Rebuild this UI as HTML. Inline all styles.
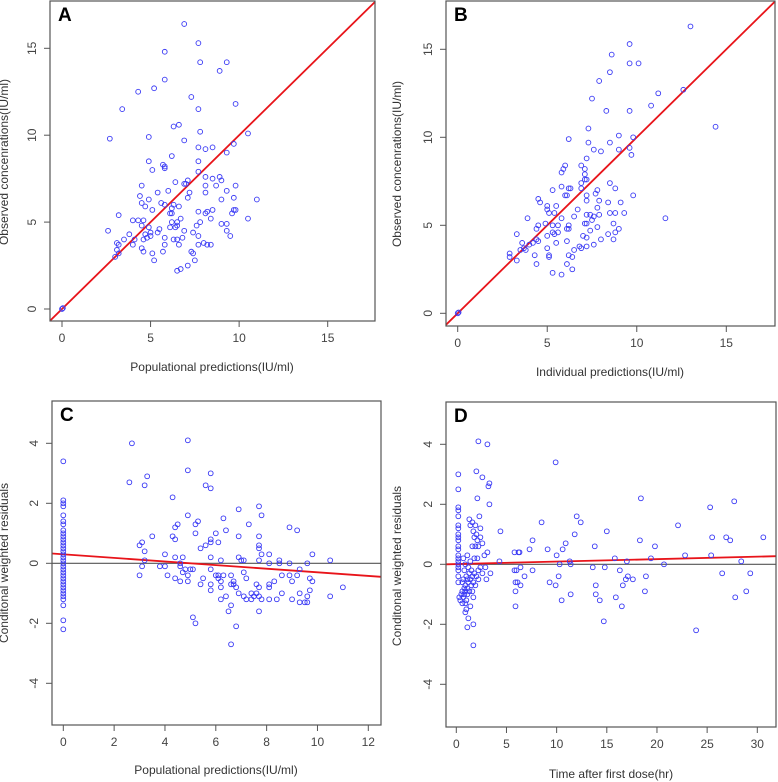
<!DOCTYPE html>
<html><head><meta charset="utf-8"><style>
html,body{margin:0;padding:0;background:#fff;}
svg{display:block;font-family:"Liberation Sans",Arial,sans-serif;}
</style></head><body>
<svg id="fig" width="778" height="782" viewBox="0 0 778 782"></svg>
<script>
// Panel A data: populational predictions vs observed
const aX=[6.9,7.7,5.8,7.8,9.3,8.9,5.8,4.3,5.2,7.3,3.4,7.7,9.8,6.3,6.6,2.7,4.9,6.9,7.8,10.5,7.7,8.1,8.5,9.7,9.3,6.2,4.9,5.7,5.8,5.8,5.1,7.7,7.7,8.1,8.9,8.5,9.0,6.4,6.9,7.0,7.1,8.1,8.7,9.8,4.5,5.4,6.0,7.2,8.1,9.3,4.4,4.9,7.1,9.0,9.7,11.0,4.5,5.6,5.8,4.7,6.3,6.6,5.1,6.2,7.7,8.2,8.5,9.7,9.8,3.2,6.1,6.2,8.1,9.6,4.0,4.3,4.6,6.2,6.5,6.7,7.8,8.4,10.5,9.3,9.0,4.5,6.1,6.5,7.6,4.9,5.5,6.4,9.3,2.6,3.8,5.4,6.9,7.4,4.7,5.0,4.8,5.0,3.5,4.1,4.6,5.8,6.3,6.5,6.8,7.7,9.5,3.1,3.2,4.0,5.8,6.6,7.7,8.0,8.2,8.4,3.1,4.5,4.6,5.7,7.3,7.4,3.0,3.2,5.1,5.2,7.5,7.1,6.5,6.7,0,0.05];
const aY=[16.4,15.3,14.8,14.2,14.2,13.7,13.2,12.5,12.7,12.2,11.5,11.5,11.8,10.5,10.6,9.8,9.9,9.7,10.2,10.1,9.3,9.2,9.3,9.5,9.0,8.8,8.5,8.3,8.2,8.1,8.0,8.5,7.9,7.6,7.6,7.5,7.4,7.3,7.2,7.2,7.4,7.1,7.1,7.1,7.1,6.7,6.8,6.7,6.7,6.8,6.5,6.3,6.4,6.3,6.4,6.3,6.1,6.1,6.0,5.9,6.0,5.9,5.7,5.8,5.6,5.6,5.7,5.7,5.7,5.4,5.5,5.5,5.5,5.5,5.1,5.1,5.1,5.0,5.0,5.2,5.0,5.2,5.2,4.9,4.9,4.8,4.7,4.8,4.8,4.7,4.6,4.7,4.5,4.5,4.3,4.4,4.5,4.4,4.3,4.4,4.1,4.2,4.0,4.0,4.0,4.1,4.0,4.0,4.1,4.2,4.2,3.8,3.7,3.7,3.7,3.7,3.7,3.8,3.7,3.7,3.4,3.5,3.3,3.3,3.3,3.2,3.0,3.2,3.2,2.8,2.8,2.5,2.2,2.3,0,0.05];
// Panel B data: individual predictions vs observed
const bX=[13.0,9.6,8.6,9.6,10.1,8.5,7.9,11.2,12.6,7.5,10.8,8.3,9.6,14.4,7.3,6.2,9.0,9.8,8.5,7.3,9.0,7.6,8.0,9.6,9.7,7.2,6.9,6.0,5.9,5.8,7.1,7.1,7.1,7.2,6.9,8.5,8.8,5.8,6.2,6.3,6.9,5.3,7.8,6.0,6.1,7.2,7.7,9.8,4.5,4.6,7.2,7.9,8.4,9.1,5.0,5.5,5.0,5.1,5.4,6.7,7.8,7.2,7.4,7.6,7.9,8.5,8.8,9.3,11.6,3.9,5.8,6.5,7.5,4.5,4.9,5.3,5.6,6.2,7.1,7.2,8.7,6.1,6.2,7.4,7.8,9.0,4.4,5.3,5.6,8.8,3.3,5.0,5.4,7.0,7.2,8.4,4.4,4.5,4.2,3.6,4.0,5.5,6.1,7.6,8.0,8.7,3.7,3.8,3.5,5.0,6.5,6.8,6.9,7.2,2.9,2.9,4.3,5.1,5.1,6.2,6.4,3.3,4.4,6.1,6.4,5.3,5.8,0,0.05];
const bY=[16.3,15.3,14.7,14.2,14.2,13.7,13.2,12.5,12.7,12.2,11.8,11.5,11.5,10.6,10.5,9.9,10.1,10.0,9.7,9.7,9.3,9.3,9.2,9.4,9.0,8.8,8.4,8.4,8.2,8.0,8.2,7.9,7.6,7.6,7.4,7.4,7.1,7.2,7.1,7.1,7.1,7.0,7.0,6.7,6.7,6.7,6.8,6.7,6.5,6.3,6.4,6.4,6.3,6.3,6.1,6.1,5.9,5.7,5.7,5.9,6.0,5.6,5.6,5.5,5.6,5.7,5.7,5.7,5.4,5.4,5.4,5.5,5.3,5.0,5.1,5.0,5.0,5.0,5.1,5.1,5.1,4.8,4.8,4.7,4.9,4.8,4.8,4.6,4.6,4.6,4.5,4.4,4.5,4.4,4.3,4.5,4.2,4.1,4.0,4.0,3.9,4.0,4.1,3.9,4.2,4.2,3.7,3.6,3.6,3.7,3.6,3.8,3.7,3.8,3.4,3.2,3.3,3.3,3.2,3.3,3.2,3.0,2.8,2.8,2.5,2.3,2.2,0,0.05];
// Panel C data: populational predictions vs CWRES
const cX=[0,0,0,0,0,0,0,0,0,0,0,0,0,0,0,0,0,0,0,0,0,0,0,0,0,0,0,0,0,0,0,0,0,0,2.7,4.9,4.9,2.6,3.3,3.2,5.8,5.6,5.8,4.3,7.7,6.9,7.8,4.9,6.3,5.3,5.2,4.5,4.4,7.3,8.9,9.2,6.4,6.0,5.2,4.3,3.5,6.9,7.7,4.4,5.8,5.8,3.1,6.1,5.6,5.4,3.0,3.2,7.7,7.7,7.8,8.1,9.8,4.0,4.4,4.7,5.8,6.9,7.0,7.1,7.7,10.5,3.2,6.2,8.5,8.1,8.5,8.9,9.6,4.6,3.1,3.8,4.0,4.6,4.8,5.0,5.1,5.8,7.1,9.3,4.7,4.9,3.0,4.1,6.0,6.1,6.3,6.6,8.6,8.9,9.2,4.4,5.5,6.1,6.2,6.7,7.2,9.0,9.7,4.6,4.9,6.7,5.4,5.8,6.6,6.2,7.6,8.1,8.1,9.8,6.8,7.7,8.3,9.7,11.0,5.8,6.9,7.4,7.6,8.6,9.3,10.5,7.1,7.5,7.7,9.6,6.2,6.4,7.2,7.4,7.8,8.1,8.4,9.0,9.3,9.5,9.6,6.6,6.5,7.7,5.1,5.2,6.8,6.6];
const cY=[3.4,2.1,2.0,1.9,1.6,1.4,1.3,1.1,1.0,0.9,0.8,0.7,0.6,0.5,0.4,0.3,0.2,0.1,0.0,-0.1,-0.2,-0.3,-0.4,-0.5,-0.6,-0.7,-0.8,-0.9,-1.0,-1.1,-1.2,-1.4,-1.9,-2.2,4.0,4.1,3.1,2.7,2.9,2.6,3.0,2.6,2.5,2.2,1.9,1.8,1.6,1.6,1.5,1.4,1.3,1.3,1.2,1.3,1.2,1.1,1.1,1.0,1.0,0.9,0.9,0.9,0.9,0.8,0.8,0.7,0.7,0.7,0.6,0.5,0.6,0.4,0.6,0.5,0.3,0.3,0.3,0.3,0.2,0.2,0.2,0.2,0.1,0.1,0.1,0.1,0.1,0.1,0.1,0.0,0.0,0.0,0.0,0.0,-0.1,-0.1,-0.1,-0.1,-0.2,-0.2,-0.2,-0.2,-0.3,-0.2,-0.3,-0.4,-0.4,-0.4,-0.4,-0.4,-0.4,-0.4,-0.4,-0.4,-0.4,-0.5,-0.5,-0.5,-0.6,-0.6,-0.5,-0.6,-0.5,-0.6,-0.6,-0.7,-0.7,-0.7,-0.7,-0.8,-0.7,-0.7,-0.8,-0.6,-0.8,-0.8,-0.6,-0.9,-0.8,-0.9,-1.0,-1.0,-1.0,-1.0,-1.0,-1.1,-1.1,-1.1,-1.1,-1.1,-1.2,-1.1,-1.2,-1.2,-1.2,-1.2,-1.2,-1.2,-1.3,-1.3,-1.3,-1.4,-1.6,-1.6,-1.8,-2.0,-2.1,-2.7];
const cLineX=[-0.5,12.5];
const cLineY=[0.33,-0.45];
// Panel D data: time after first dose vs CWRES
const dX=[0.2,0.2,0.2,0.2,0.2,0.2,0.2,0.2,0.2,0.2,0.2,0.2,0.2,0.2,0.2,0.2,0.2,0.2,0.2,0.2,2.2,3.1,2.0,2.6,3.3,3.2,2.1,3.3,2.3,1.3,1.6,1.9,1.4,2.4,1.7,2.0,1.8,2.4,2.6,2.1,1.6,2.2,1.9,3.1,1.1,0.7,1.4,1.8,2.8,2.1,0.9,1.2,1.5,2.4,2.9,0.8,1.3,1.8,2.2,3.4,1.0,1.6,2.0,2.6,3.0,0.7,1.1,1.4,1.7,2.2,0.6,0.9,1.2,1.5,1.9,0.8,1.1,1.3,0.6,0.9,1.6,0.5,0.8,1.1,0.3,0.7,1.0,1.7,0.4,0.6,0.9,1.4,1.0,0.9,1.2,1.1,1.7,1.7,9.9,18.4,27.7,25.3,12.0,8.5,12.4,22.1,4.4,15.0,11.8,25.5,26.9,27.3,30.6,18.3,7.6,10.9,13.8,19.8,9.1,7.3,10.6,5.8,6.2,6.3,10.0,15.8,19.4,22.8,25.4,4.3,11.3,28.4,17.0,10.3,11.4,20.7,13.6,14.8,6.4,5.8,6.0,7.6,16.3,26.5,29.3,6.8,10.2,17.1,17.6,18.9,16.9,9.3,5.9,6.1,9.9,13.9,16.6,6.4,5.9,13.9,11.4,18.8,28.9,15.9,27.8,10.5,14.3,5.9,16.5,14.7,23.9];
const dY=[3.0,2.5,1.9,1.8,1.6,1.3,1.2,1.0,0.9,0.8,0.6,0.5,0.3,0.2,0.1,0.0,-0.1,-0.2,-0.4,-0.6,4.1,4.0,3.1,2.9,2.7,2.6,2.2,2.0,1.6,1.5,1.4,1.3,1.3,1.2,1.1,1.0,0.9,0.9,0.7,0.8,0.6,0.6,0.6,0.4,0.3,0.2,0.1,0.2,0.3,0.2,0.0,-0.1,-0.2,-0.1,-0.1,-0.2,-0.3,-0.3,-0.2,-0.3,-0.4,-0.4,-0.4,-0.3,-0.5,-0.5,-0.5,-0.5,-0.6,-0.5,-0.6,-0.7,-0.6,-0.7,-0.7,-0.8,-0.8,-0.9,-0.9,-0.9,-0.9,-1.0,-1.0,-1.0,-1.1,-1.1,-1.2,-1.1,-1.2,-1.3,-1.3,-1.4,-1.5,-1.6,-1.8,-2.1,-2.0,-2.7,3.4,2.2,2.1,1.9,1.6,1.4,1.4,1.3,1.1,1.1,1.0,0.9,0.9,0.8,0.9,0.8,0.8,0.7,0.6,0.6,0.5,0.5,0.5,0.4,0.4,0.4,0.3,0.2,0.2,0.3,0.3,0.1,0.1,0.1,0.1,0.0,0.0,0.0,-0.1,-0.1,-0.1,-0.2,-0.2,-0.2,-0.2,-0.3,-0.3,-0.4,-0.4,-0.4,-0.5,-0.4,-0.5,-0.6,-0.6,-0.6,-0.7,-0.7,-0.7,-0.7,-0.9,-1.0,-1.0,-0.9,-0.9,-1.1,-1.1,-1.2,-1.2,-1.4,-1.4,-1.9,-2.2];
const dLineX=[-1,31.9];
const dLineY=[0,0.27];
const abTicks=[0,5,10,15];
const cXTicks=[0,2,4,6,8,10,12];
const dXTicks=[0,5,10,15,20,25,30];
const resTicks=[-4,-2,0,2,4];

const NS="http://www.w3.org/2000/svg";
const svg=document.getElementById('fig');
function mk(tag,attrs,parent){const e=document.createElementNS(NS,tag);for(const k in attrs)e.setAttribute(k,attrs[k]);(parent||svg).appendChild(e);return e;}
function scale(d0,p0,d1,p1){return v=>p0+(v-d0)*(p1-p0)/(d1-d0);}

function panel(cfg){
  const g=mk('g',{});
  
  
  const sx=scale(cfg.xd[0],cfg.xp[0],cfg.xd[1],cfg.xp[1]);
  const sy=scale(cfg.yd[0],cfg.yp[0],cfg.yd[1],cfg.yp[1]);
  const b=cfg.box;
  const clipId='clip-'+cfg.letter;
  const cp=mk('clipPath',{id:clipId},g);
  mk('rect',{x:b[0],y:b[1],width:b[2]-b[0],height:b[3]-b[1]},cp);
  // x ticks
  cfg.xt.forEach(t=>{
    const x=sx(t);
    const tk=mk('line',{x1:x,x2:x,y1:b[3],y2:b[3]+6,stroke:'#555','stroke-width':1},g);
    
    
    const tl=mk('text',{x:x,y:b[3]+21,'font-size':12,fill:'#444','text-anchor':'middle'},g);
    tl.textContent=t;
    
    
  });
  cfg.yt.forEach(t=>{
    const y=sy(t);
    const tk=mk('line',{x1:b[0]-6,x2:b[0],y1:y,y2:y,stroke:'#555','stroke-width':1},g);
    
    
    const tx=b[0]-14;
    const tl=mk('text',{x:tx,y:y,'font-size':12,fill:'#444','text-anchor':'middle',transform:`rotate(-90 ${tx} ${y})`},g);
    tl.textContent=t;
    
    
  });
  const xt=mk('text',{x:cfg.xtitle[1],y:cfg.xtitle[2],'font-size':12,fill:'#333','text-anchor':'middle'},g);
  xt.textContent=cfg.xtitle[0];
  
  
  const yx=cfg.ytitle[1],yy=cfg.ytitle[2];
  const yt=mk('text',{x:yx,y:yy,'font-size':12,fill:'#333','text-anchor':'middle',transform:`rotate(-90 ${yx} ${yy})`},g);
  yt.textContent=cfg.ytitle[0];
  
  
  const pg=mk('g',{'clip-path':`url(#${clipId})`},g);
  if(cfg.zero){
    const zl=mk('line',{x1:b[0],x2:b[2],y1:sy(0),y2:sy(0),stroke:'#555','stroke-width':1.2},pg);
    
    
  }
  const lx=cfg.lineX,ly=cfg.lineY;
  const rl=mk('line',{x1:sx(lx[0]),y1:sy(ly[0]),x2:sx(lx[1]),y2:sy(ly[1]),stroke:'#e8141a','stroke-width':1.8},pg);
  
  
  for(let i=0;i<cfg.px.length;i++){
    const c=mk('circle',{cx:sx(cfg.px[i]),cy:sy(cfg.py[i]),r:2.4,fill:'none',stroke:'#3a3af5','stroke-width':0.9},pg);
    
    
  }
  const br=mk('rect',{x:b[0],y:b[1],width:b[2]-b[0],height:b[3]-b[1],fill:'none',stroke:'#555','stroke-width':1.2},g);
  
  
  const lt=mk('text',{x:b[0]+8,y:b[1]+20,'font-size':19,'font-weight':'bold',fill:'#000'},g);
  lt.textContent=cfg.letter;
  
  
}

panel({name:'panel-a',letter:'A',box:[50,1,375,321],xd:[0,15],xp:[62,327.7],yd:[0,15],yp:[309,48.3],
  xt:abTicks,yt:abTicks,px:aX,py:aY,lineX:[-5,25],lineY:[-5,25],lineName:'identity-line',
  xtitle:['Populational predictions(IU/ml)',212,371],ytitle:['Observed concenrations(IU/ml)',8,162]});
panel({name:'panel-b',letter:'B',box:[446,1,775,326],xd:[0,15],xp:[457.7,726.3],yd:[0,15],yp:[313.3,49.3],
  xt:abTicks,yt:abTicks,px:bX,py:bY,lineX:[-5,25],lineY:[-5,25],lineName:'identity-line',
  xtitle:['Individual predictions(IU/ml)',610,376],ytitle:['Observed concenrations(IU/ml)',401,164]});
panel({name:'panel-c',letter:'C',box:[52,401,381,725],xd:[0,12],xp:[63.3,368.3],yd:[0,4],yp:[563.3,443.3],
  xt:cXTicks,yt:resTicks,px:cX,py:cY,lineX:cLineX,lineY:cLineY,lineName:'trend-line',zero:true,
  xtitle:['Populational predictions(IU/ml)',216,774],ytitle:['Conditonal weighted residuals',8,563]});
panel({name:'panel-d',letter:'D',box:[446,402,776,727],xd:[0,30],xp:[456.3,757.3],yd:[0,4],yp:[564.3,444.3],
  xt:dXTicks,yt:resTicks,px:dX,py:dY,lineX:dLineX,lineY:dLineY,lineName:'trend-line',zero:true,
  xtitle:['Time after first dose(hr)',611,778],ytitle:['Conditonal weighted residuals',401,566]});
</script>
</body></html>
